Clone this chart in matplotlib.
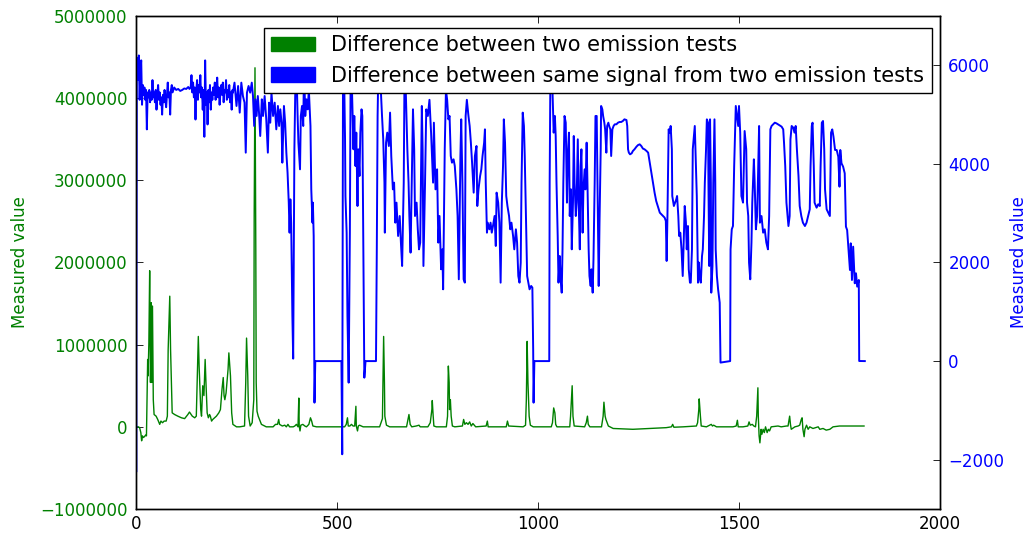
import matplotlib
matplotlib.use("Agg")
import matplotlib.pyplot as plt
from matplotlib.patches import Patch

# ---------------- data ----------------
green_x = [0, 6, 9, 12, 14, 16, 18, 21, 24, 26, 29, 30, 32, 34, 36, 38, 39, 41, 43, 45,
           50, 54, 59, 62, 66, 70, 75, 78, 80, 84, 86, 90, 96, 104, 113, 121, 129, 133,
           140, 146, 150, 152, 155, 157, 161, 163, 166, 169, 172, 174, 177, 180, 183, 185,
           188, 191, 200, 206, 210, 214, 217, 219, 221, 224, 229, 231, 235, 238, 241,
           250, 258, 270, 273, 275, 278, 280, 284, 289, 293, 294, 296, 298, 299, 301, 304,
           312, 324, 341, 347, 352, 355, 357, 364, 370, 374, 378, 382, 391, 395, 399, 403,
           405, 406, 408, 410, 415, 420, 424, 430, 434, 437, 440, 449, 490,
           519, 523, 526, 528, 532, 536, 540, 544, 547, 548, 551, 553, 556, 565, 606, 613,
           614, 616, 618, 619, 623, 631, 673, 677, 679, 682, 686, 697, 704, 707, 726, 732,
           736, 737, 739, 741, 747, 772, 775, 777, 779, 780, 782, 784, 787, 793, 812, 815,
           818, 822, 826, 830, 834, 838, 845, 871, 874, 876, 921, 924, 927, 963, 969, 971,
           973, 975, 978, 981, 988, 1033, 1036, 1039, 1042, 1044, 1047, 1079, 1081, 1085,
           1087, 1090, 1116, 1120, 1123, 1125, 1129, 1158, 1162, 1164, 1167, 1169, 1172,
           1175, 1187, 1236, 1278, 1319, 1332, 1335, 1338, 1361, 1394, 1397, 1400, 1401,
           1404, 1406, 1419, 1427, 1431, 1434, 1437, 1444, 1485, 1493, 1496, 1498, 1510,
           1522, 1525, 1528, 1533, 1537, 1541, 1544, 1547, 1548, 1550, 1552, 1555, 1557,
           1560, 1563, 1566, 1570, 1573, 1576, 1580, 1597, 1605, 1618, 1622, 1624, 1626,
           1628, 1630, 1633, 1639, 1647, 1651, 1655, 1657, 1659, 1662, 1664, 1668, 1672,
           1676, 1684, 1697, 1701, 1709, 1717, 1726, 1734, 1750, 1811]
green_y = [0, 0, -10000, -70000, -170000, -110000, -130000, -120000, -100000, -110000,
           820000, 620000, 1020000, 1900000, 540000, 1510000, 540000, 1470000, 330000,
           150000, 130000, 90000, 30000, 70000, 50000, 70000, 70000, 130000, 940000,
           1590000, 940000, 170000, 150000, 130000, 110000, 100000, 150000, 180000, 130000,
           110000, 130000, 540000, 1100000, 740000, 210000, 130000, 500000, 380000, 820000,
           540000, 170000, 110000, 150000, 130000, 70000, 90000, 130000, 170000, 210000,
           460000, 600000, 380000, 330000, 410000, 700000, 900000, 620000, 170000, 30000,
           0, 0, 10000, 540000, 1080000, 620000, 130000, 10000, 50000, 330000, 2570000,
           4370000, 2160000, 540000, 190000, 130000, 30000, 0, 0, 30000, 30000, 90000,
           30000, 10000, 20000, 0, 30000, 0, 0, 10000, 30000, 0, 350000, 10000, -50000,
           20000, 30000, 10000, 0, 30000, 110000, 70000, 10000, 0, 0,
           0, 30000, 110000, 10000, 10000, 30000, 10000, 10000, 250000, 10000, -50000,
           10000, 20000, 0, 0, 100000, 410000, 1100000, 540000, 130000, 20000, 0, 0,
           100000, 150000, 30000, 0, 10000, 20000, 0, 0, 50000, 210000, 320000, 150000,
           10000, 0, 0, 130000, 740000, 540000, 210000, 330000, 130000, 10000, 0, 10000,
           90000, 30000, 50000, 30000, 60000, 10000, 40000, 0, 10000, 70000, 0, 0, 70000,
           10000, 0, 20000, 330000, 1040000, 540000, 130000, 20000, 0, 0, 50000, 230000,
           170000, 30000, 0, 0, 130000, 500000, 130000, 10000, 0, 50000, 130000, 30000, 0,
           0, 130000, 300000, 130000, 90000, 50000, 10000, -20000, -30000, -20000, -10000,
           0, 30000, -5000, 0, 10000, 50000, 210000, 340000, 130000, 10000, 0, 20000,
           30000, 10000, 20000, 0, 0, 10000, 80000, 0, 0, 10000, 60000, 20000, 30000,
           10000, 0, 130000, 475000, 130000, -110000, -195000, -30000, -90000, -30000,
           -70000, 0, -70000, -30000, -50000, 0, 10000, 0, 10000, 10000, 70000, 130000,
           30000, -30000, -20000, 0, 10000, 20000, 90000, 110000, -30000, -120000, -30000,
           20000, -30000, 0, -20000, 0, -30000, -20000, -40000, -30000, 0, 10000, 10000]

blue_x = [0, 0.5, 2, 5, 7, 9, 11, 13, 15, 17, 19, 21, 23, 25, 27, 29, 31, 33, 35, 37, 39,
          41, 43, 45, 47, 49, 51, 53, 55, 57, 59, 61, 63, 65, 67, 69, 71, 73, 75, 77, 79,
          81, 83, 85, 87, 89, 91, 95, 100, 105, 110, 115, 120, 125, 130, 133, 136, 138,
          140, 142, 144, 146, 148, 150, 152, 154, 156, 158, 160, 162, 164, 166, 168, 170,
          172, 174, 176, 178, 180, 182, 184, 186, 188, 190, 192, 194, 196, 198, 200, 202,
          204, 206, 208, 210, 212, 214, 216, 218, 220, 222, 224, 226, 228, 230, 232, 234,
          236, 238, 240,
          241, 245, 250, 254, 258, 262, 266, 270, 273, 276, 280, 284, 288, 291, 294, 297,
          300, 303, 306, 309, 313, 316, 320, 324, 328, 331, 334, 337, 341, 345, 349, 353,
          356, 359, 362, 364, 368, 371, 374, 377, 380, 382, 384, 386, 389, 391, 392, 394,
          396, 399, 402, 404, 408, 410, 413, 416, 418, 421, 424, 427, 430, 434, 436, 439,
          440, 442, 443, 444, 446, 511, 513, 515, 517, 520, 521, 524, 526, 529, 532, 534,
          536, 539, 541, 543, 546, 548, 551, 553, 556, 558, 561, 563, 566, 568, 571, 597,
          599, 601, 603, 605, 609, 612, 615, 618, 619, 622, 625, 629, 632, 635, 639, 642,
          645, 648, 652, 656, 659, 662, 666, 668, 671, 675, 678, 680, 683, 686, 689, 692,
          694, 698, 701, 704, 707, 711, 713, 715, 719, 722, 726, 730, 734, 739,
          741, 745, 749, 752, 755, 759, 762, 764, 768, 771, 774, 777, 780, 783, 786, 790,
          793, 797, 800, 803, 807, 809, 812, 815, 818, 820, 823, 827, 830, 833, 836, 840,
          843, 847, 849, 852, 856, 859, 862, 866, 868, 870, 873, 875, 879, 882, 885, 888,
          892, 895, 897, 901, 904, 907, 910, 913, 915, 918, 921, 924, 928, 931, 934, 938,
          941, 945, 948, 951, 954, 957, 959, 962, 965, 967, 970, 973, 976, 979, 983, 986,
          988, 989, 991, 1028, 1029, 1031, 1033, 1036, 1039, 1042, 1044, 1046, 1049, 1051,
          1054, 1056, 1059, 1061, 1063, 1066, 1069, 1072, 1074, 1077, 1079, 1082, 1084,
          1087, 1089, 1091, 1094, 1096, 1099, 1101, 1104, 1106, 1108, 1111, 1113, 1116,
          1118, 1121, 1123, 1126, 1128, 1131, 1133, 1136, 1138, 1141, 1143, 1146, 1148,
          1151, 1153, 1156, 1157, 1160, 1162, 1165, 1167, 1170, 1172, 1175, 1177, 1180,
          1182, 1185, 1188, 1191, 1195, 1199, 1203, 1207, 1211, 1215, 1220, 1222, 1224,
          1226, 1229, 1233, 1236, 1240, 1245, 1249, 1253, 1257, 1261, 1265, 1270, 1274,
          1278, 1282, 1286, 1290, 1294, 1299, 1303, 1307, 1311, 1315, 1318, 1320, 1322,
          1324, 1325, 1328, 1330, 1333, 1334, 1338, 1341, 1344, 1346, 1349, 1351, 1354,
          1357, 1360, 1363, 1365, 1368, 1370, 1373, 1375, 1378, 1380, 1383, 1385, 1388,
          1390, 1393, 1395, 1398, 1400, 1403, 1405, 1408, 1410, 1413, 1415, 1418, 1420,
          1423, 1424, 1426, 1428, 1430, 1431, 1434, 1436, 1439, 1441, 1442, 1445, 1448,
          1452, 1454, 1478, 1479, 1482, 1485, 1488, 1492, 1495, 1498, 1500, 1503, 1506,
          1510, 1514, 1518, 1520, 1523, 1525, 1528, 1531, 1533, 1537, 1539, 1542, 1545,
          1547, 1550, 1552, 1556, 1560, 1564, 1568, 1572, 1575, 1577, 1578, 1581, 1585,
          1589, 1593, 1597, 1601, 1606, 1610, 1612, 1615, 1618, 1621, 1623, 1626, 1628,
          1631, 1635, 1638, 1641, 1644, 1648, 1651, 1655, 1659, 1664, 1668, 1672, 1676,
          1678, 1681, 1683, 1686, 1688, 1693, 1697, 1701, 1703, 1706, 1709, 1712, 1714,
          1718, 1722, 1726, 1729, 1732, 1735, 1739, 1743, 1747, 1750, 1752, 1755, 1759,
          1763, 1766, 1769, 1772, 1776, 1778, 1781, 1784, 1788, 1791, 1794, 1798, 1799,
          1813]
blue_y = [300, -2250, 6150, 5700, 6200, 5300, 5900, 6100, 5200, 5600, 5400, 5550, 5300,
          5500, 4700, 5450, 5350, 5500, 5250, 5450, 5300, 5700, 5350, 5450, 5250, 5500,
          5100, 5400, 5600, 5300, 5450, 5200, 5350, 5000, 5400, 5250, 5500, 5300, 5150,
          5400, 5650, 5350, 5450, 5000, 5500, 5600, 5450, 5550, 5500, 5520, 5480, 5500,
          5530, 5520, 5560, 5520, 5550, 5800, 5450, 5650, 5350, 5550, 4900, 5500, 5700,
          5300, 5600, 5450, 5800, 5350, 5550, 5100, 5500, 4550, 6100, 5200, 5450, 4800,
          5500, 5250, 5600, 5100, 5450, 5300, 5550, 5400, 5650, 5300, 5500, 5750, 5350,
          5550, 5200, 5450, 5600, 5400, 5650, 5250, 5500, 5450, 5700, 5300, 5500, 5350,
          5600, 5250, 5450, 5100, 5500,
          5445, 5648, 5175, 5580, 5040, 5648, 5377, 5242, 4228, 5445, 5580, 5445, 5648,
          5377, 4769, 5310, 4972, 5377, 5040, 4566, 5310, 4972, 5377, 4904, 4228, 5242,
          4836, 5445, 4972, 5242, 4701, 5175, 4769, 5107, 4836, 4025, 5175, 4836, 4228,
          3822, 3214, 2605, 3281, 2808, 915, 50, 1591, 4296, 5377, 6000, 4972, 4431, 3890,
          4972, 5175, 4769, 6000, 4972, 5310, 5107, 5500, 4769, 3484, 2808, 3214, 2538,
          915, -843, 0, 0, -1890, 6000, 6200, 4500, 3349, 2600, 915, -437, 2605, 6000,
          5900, 4972, 4296, 4972, 3957, 4634, 3146, 4296, 3755, 4634, 5107, 4972, 1929,
          -336, 0, 0, 2267, 4972, 6000, 6100, 5500, 4972, 4500, 3620, 2605, 4431, 4634,
          4363, 5040, 4160, 3484, 3620, 2808, 3214, 2538, 2943, 2403, 1929, 3620, 5900,
          5500, 4296, 3620, 2943, 2200, 3620, 5107, 4296, 2943, 3214, 2673, 2267, 2403,
          5175, 4296, 1929, 3620, 5107, 4972, 5300, 4634, 3620,
          4836, 3484, 3890, 2403, 2943, 1862, 2267, 1456, 4296, 5500, 5300, 4904, 4972,
          4160, 4025, 4093, 3958, 3484, 2943, 1659, 4160, 4904, 3620, 1659, 1591, 4972,
          5300, 4972, 4769, 4431, 4025, 3417, 4160, 4363, 3146, 3484, 3755, 3890, 4160,
          4431, 4701, 3620, 2605, 2808, 2673, 2808, 2605, 2740, 2943, 2335, 3417, 3214,
          2808, 1591, 3214, 3957, 4904, 4431, 3349, 3146, 2943, 2673, 2808, 2538, 2267,
          2673, 2403, 1726, 1591, 1997, 3620, 5040, 4769, 4160, 2943, 1726, 1591, 1456,
          1524, 1490, 239, -843, 0, 0, 3620, 6000, 6200, 5500, 4634, 4972, 4566, 3620,
          2538, 1591, 2132, 1726, 1388, 2267, 3620, 4972, 4836, 3214, 4160, 4634, 2943,
          3484, 2267, 3214, 4566, 3620, 2943, 3214, 4499, 3281, 2267, 3957, 4296, 2605,
          3484, 3890, 3484, 4431, 3620, 2267, 1726, 1524, 1862, 1388, 2065, 3620, 4972,
          4972, 3620, 1524, 2808, 4296, 5175, 5107, 4972, 4836, 4701, 4228, 4769, 4836,
          4769, 4701, 4160, 4701, 4769, 4803, 4803, 4836, 4850, 4850, 4870, 4904, 4890,
          4769, 4296, 4228, 4194, 4215, 4262, 4296, 4350, 4383, 4397, 4363, 4310, 4296,
          4262, 4228, 4025, 3822, 3620, 3417, 3248, 3112, 3011, 2977, 2943, 2910, 2842,
          2031, 2943, 4093, 4701, 4634, 4769, 4296, 3349, 3146, 3214, 3281, 3349, 2943,
          2538, 2605, 2267, 1726, 2605, 3146, 2808, 2267, 2740, 1862, 1591, 1591, 2267,
          4296, 4566, 4769, 3957, 3349, 1591, 2000, 1659, 1591, 2132, 2267, 2943, 3620,
          4296, 4904, 4836, 3620, 1929, 4904, 3620, 1388, 1929, 3620, 4904, 3620, 2267,
          1726, 1456, 1185, -30, 0, 2267, 2673, 2740, 3957, 5175, 4972, 4769, 5175, 4634,
          3349, 3214, 4667, 4296, 3214, 2943, 1997, 1659, 2403, 3214, 4093, 3620, 2673,
          2943, 3620, 4769, 2808, 2943, 2605, 2673, 2403, 2267, 2943, 4160, 4701, 4769,
          4803, 4836, 4823, 4803, 4782, 4755, 4701, 4431, 3957, 3214, 2943, 2740, 2943,
          4499, 4769, 4735, 4634, 4769, 4296, 3755, 3146, 2943, 2808, 2740, 2808, 2943,
          3079, 3957, 4769, 4836, 3957, 3214, 3112, 3180, 3146, 3957, 4836, 4870, 4296,
          3484, 3079, 3011, 2943, 4634, 4700, 4552, 4282, 4282, 4146, 3538, 4282, 4012,
          3944, 3809, 2727, 2659, 2321, 1848, 2389, 1645, 2321, 1578, 1781, 1510, 1645,
          2, 0]

legend_labels = ["Difference between two emission tests",
                 "Difference between same signal from two emission tests"]
axis_label = "Measured value"
x_ticks = [0, 500, 1000, 1500, 2000]
left_ticks = [-1000000, 0, 1000000, 2000000, 3000000, 4000000, 5000000]
right_ticks = [-2000, 0, 2000, 4000, 6000]

# ---------------- figure ----------------
GREEN = (0, 0.5, 0)
BLUE = (0, 0, 1)

fig = plt.figure(figsize=(10.3, 5.35), dpi=100, facecolor="white")
ax = fig.add_axes([0.13204, 0.0486, 0.78058, 0.9215])
ax2 = ax.twinx()

ax.plot(green_x, green_y, color=GREEN, linewidth=1.0)
ax2.plot(blue_x, blue_y, color=BLUE, linewidth=1.4)

ax.set_xlim(0, 2000)
ax.set_ylim(-1000000, 5000000)
ax2.set_ylim(-3000, 7000)
ax.set_xticks(x_ticks)
ax.set_yticks(left_ticks)
ax2.set_yticks(right_ticks)
ax.ticklabel_format(axis="y", style="plain", useOffset=False)

ax.tick_params(axis="x", direction="in", length=5, width=0.6, labelsize=12,
               top=True, pad=4)
ax.tick_params(axis="y", direction="in", length=5, width=0.6, labelsize=12,
               labelcolor=GREEN, pad=6)
ax2.tick_params(axis="y", direction="in", length=5, width=0.6, labelsize=12,
                labelcolor=BLUE, pad=6)

ax.set_ylabel(axis_label, color=GREEN, fontsize=12, labelpad=8)
ax2.set_ylabel(axis_label, color=BLUE, fontsize=12, labelpad=4)

for a in (ax, ax2):
    for s in a.spines.values():
        s.set_linewidth(1.0)
        s.set_color("black")

handles = [Patch(facecolor=GREEN, edgecolor=GREEN),
           Patch(facecolor=BLUE, edgecolor=BLUE)]
leg = ax2.legend(handles, legend_labels, loc="upper right",
                 bbox_to_anchor=(0.990, 0.9757), borderaxespad=0.0,
                 fontsize=15, fancybox=False, framealpha=1.0,
                 handlelength=2.1, handleheight=0.7, handletextpad=0.8,
                 labelspacing=0.5, borderpad=0.36)
leg.get_frame().set_edgecolor("black")
leg.get_frame().set_linewidth(1.0)

fig.savefig("out.png", dpi=100, facecolor="white")
